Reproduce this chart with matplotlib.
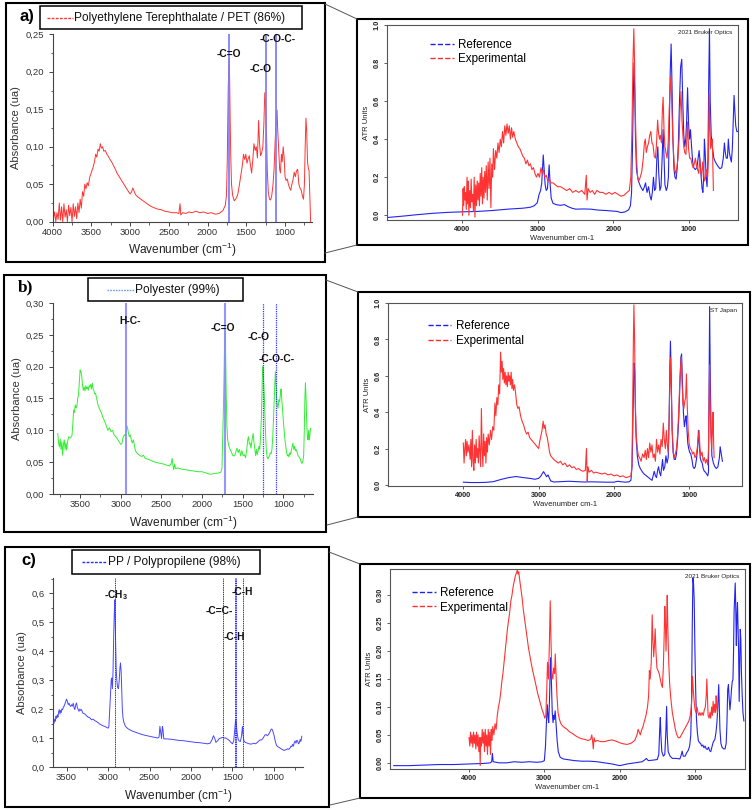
import numpy as np
import matplotlib
matplotlib.use("Agg")
import matplotlib.pyplot as plt
from matplotlib.patches import Rectangle
from matplotlib.lines import Line2D
from matplotlib.ticker import MultipleLocator

plt.rcParams['font.family'] = ['Liberation Sans', 'DejaVu Sans']
plt.rcParams['mathtext.default'] = 'regular'

# ---------------- data: (wavenumber, absorbance) -------------
# a) PET, left panel (red)
pet_abs = [(4000,0.015),(3990,0.004),(3975,0.013),(3960,0.0),(3945,0.012),(3930,0.003),(3915,0.025),(3900,0.002),
 (3885,0.02),(3870,0.0),(3855,0.024),(3840,0.006),(3825,0.016),(3810,0.0),(3795,0.022),(3780,0.008),(3765,0.019),
 (3750,0.0),(3735,0.024),(3720,0.007),(3705,0.02),(3690,0.004),(3675,0.025),(3660,0.012),(3645,0.03),(3630,0.018),
 (3615,0.04),(3600,0.034),(3585,0.05),(3570,0.044),(3555,0.052),(3540,0.048),(3520,0.06),(3500,0.066),(3480,0.072),
 (3460,0.08),(3445,0.09),(3430,0.086),(3415,0.097),(3400,0.094),(3385,0.104),(3370,0.098),(3355,0.1),(3340,0.094),
 (3320,0.095),(3300,0.09),(3280,0.087),(3260,0.083),(3240,0.08),(3220,0.076),(3200,0.072),(3170,0.065),(3140,0.06),
 (3110,0.055),(3080,0.05),(3050,0.045),(3020,0.04),(3000,0.037),(2980,0.04),(2965,0.045),(2950,0.041),(2930,0.036),
 (2900,0.033),(2860,0.03),(2820,0.027),(2780,0.024),(2740,0.021),(2700,0.019),(2650,0.017),(2600,0.016),(2550,0.014),
 (2500,0.013),(2450,0.012),(2400,0.012),(2370,0.011),(2355,0.024),(2345,0.009),(2320,0.012),(2280,0.011),(2240,0.013),
 (2200,0.012),(2150,0.014),(2100,0.012),(2050,0.013),(2000,0.011),(1950,0.012),(1900,0.01),(1850,0.011),(1800,0.015),
 (1770,0.022),(1755,0.035),(1745,0.08),(1738,0.13),(1732,0.18),(1726,0.2),(1720,0.218),(1714,0.19),(1708,0.14),
 (1700,0.09),(1690,0.05),(1675,0.035),(1655,0.028),(1635,0.03),(1610,0.036),(1590,0.048),(1570,0.062),(1550,0.075),
 (1535,0.09),(1520,0.083),(1505,0.09),(1490,0.078),(1475,0.084),(1460,0.088),(1445,0.075),(1430,0.065),(1415,0.082),
 (1400,0.104),(1385,0.095),(1370,0.1),(1355,0.085),(1340,0.135),(1328,0.105),(1315,0.088),(1300,0.092),(1285,0.1),
 (1272,0.13),(1260,0.172),(1248,0.155),(1238,0.12),(1228,0.07),(1215,0.04),(1200,0.03),(1185,0.029),(1170,0.035),
 (1155,0.048),(1140,0.07),(1125,0.11),(1112,0.14),(1102,0.149),(1092,0.12),(1080,0.095),(1068,0.07),(1058,0.065),
 (1045,0.09),(1035,0.08),(1022,0.1),(1010,0.085),(998,0.06),(985,0.055),(970,0.057),(955,0.05),(940,0.045),(925,0.042),
 (910,0.05),(895,0.056),(880,0.066),(865,0.06),(850,0.068),(835,0.07),(820,0.05),(805,0.045),(790,0.042),(775,0.035),
 (760,0.03),(748,0.05),(738,0.1),(728,0.138),(718,0.12),(708,0.08),(698,0.072),(688,0.068),(678,0.035),(668,0.0)]

# a) PET, right panel
ref_pet = [(5000,-0.012),(4800,-0.005),(4600,0.003),(4400,0.01),(4200,0.015),(4000,0.018),(3800,0.02),(3600,0.025),
 (3400,0.032),(3200,0.037),(3100,0.042),(3050,0.05),(3010,0.065),(2985,0.11),(2965,0.13),(2950,0.17),(2938,0.26),
 (2930,0.317),(2918,0.24),(2905,0.16),(2890,0.13),(2875,0.14),(2862,0.2),(2852,0.265),(2840,0.17),(2825,0.09),
 (2800,0.062),(2750,0.055),(2700,0.052),(2650,0.056),(2600,0.045),(2550,0.037),(2500,0.032),(2400,0.033),(2300,0.032),
 (2200,0.027),(2100,0.025),(2000,0.022),(1950,0.02),(1900,0.014),(1850,0.017),(1800,0.028),(1775,0.05),(1760,0.12),
 (1748,0.35),(1738,0.6),(1728,0.8),(1718,0.65),(1708,0.4),(1695,0.24),(1670,0.18),(1640,0.15),(1610,0.13),(1590,0.15),
 (1575,0.17),(1555,0.12),(1535,0.15),(1515,0.1),(1500,0.08),(1485,0.12),(1470,0.2),(1455,0.13),(1440,0.14),(1425,0.3),
 (1412,0.36),(1400,0.22),(1385,0.13),(1370,0.15),(1355,0.3),(1342,0.45),(1330,0.3),(1318,0.16),(1300,0.13),(1285,0.15),
 (1272,0.2),(1260,0.45),(1248,0.75),(1236,0.9),(1225,0.7),(1212,0.4),(1198,0.24),(1185,0.2),(1170,0.19),(1155,0.25),
 (1140,0.38),(1125,0.6),(1110,0.78),(1095,0.82),(1082,0.6),(1068,0.42),(1055,0.36),(1042,0.4),(1030,0.5),(1018,0.67),
 (1005,0.48),(992,0.4),(980,0.45),(965,0.36),(950,0.28),(935,0.25),(915,0.24),(895,0.25),(878,0.3),(865,0.34),
 (852,0.28),(838,0.2),(826,0.14),(815,0.12),(805,0.2),(795,0.4),(785,0.33),(772,0.2),(760,0.15),(748,0.3),(738,0.7),
 (728,0.98),(718,0.6),(705,0.42),(690,0.36),(670,0.3),(650,0.28),(620,0.26),(590,0.245),(565,0.25),(545,0.3),
 (530,0.38),(518,0.33),(505,0.3),(490,0.3),(478,0.4),(465,0.33),(450,0.3),(438,0.28),(425,0.35),(412,0.5),(402,0.63),
 (392,0.55),(380,0.47),(365,0.44),(350,0.44)]

exp_pet = [(4000,0.0),(3992,0.14),(3984,0.05),(3976,0.15),(3968,0.08),(3960,0.12),(3950,0.03),(3940,0.2),(3932,0.06),
 (3924,0.18),(3915,0.0),(3905,0.13),(3895,0.04),(3885,0.19),(3875,0.07),(3865,0.11),(3855,0.02),(3845,0.2),(3835,-0.01),
 (3825,0.16),(3815,0.05),(3805,0.18),(3795,0.08),(3785,0.17),(3775,0.05),(3765,0.22),(3755,0.1),(3745,0.25),(3735,0.06),
 (3725,0.2),(3715,0.09),(3705,0.23),(3695,0.12),(3685,0.26),(3672,0.08),(3660,0.28),(3648,0.14),(3636,0.3),(3624,0.04),
 (3612,0.27),(3600,0.2),(3590,0.35),(3575,0.24),(3560,0.34),(3545,0.3),(3530,0.38),(3515,0.33),(3500,0.4),(3485,0.36),
 (3470,0.44),(3455,0.38),(3440,0.47),(3425,0.42),(3410,0.48),(3395,0.43),(3380,0.47),(3365,0.4),(3350,0.46),(3335,0.41),
 (3320,0.44),(3300,0.4),(3280,0.38),(3260,0.36),(3240,0.35),(3220,0.33),(3200,0.31),(3180,0.3),(3160,0.27),(3140,0.29),
 (3120,0.26),(3100,0.27),(3080,0.24),(3060,0.25),(3040,0.22),(3020,0.2),(3000,0.22),(2980,0.2),(2960,0.25),(2945,0.22),
 (2930,0.24),(2910,0.2),(2890,0.21),(2870,0.18),(2850,0.19),(2830,0.17),(2800,0.17),(2770,0.16),(2740,0.15),(2700,0.15),
 (2660,0.14),(2620,0.13),(2580,0.14),(2540,0.12),(2500,0.13),(2460,0.12),(2420,0.13),(2380,0.11),(2360,0.21),(2350,0.08),
 (2335,0.14),(2310,0.12),(2280,0.13),(2250,0.11),(2220,0.13),(2180,0.12),(2140,0.12),(2100,0.11),(2060,0.12),(2020,0.11),
 (1980,0.12),(1940,0.11),(1900,0.1),(1860,0.105),(1820,0.12),(1790,0.13),(1770,0.2),(1755,0.45),(1742,0.8),(1730,0.98),
 (1720,0.8),(1708,0.5),(1695,0.3),(1680,0.2),(1665,0.18),(1645,0.2),(1625,0.23),(1605,0.3),(1590,0.38),(1578,0.4),
 (1565,0.33),(1550,0.36),(1535,0.38),(1520,0.42),(1505,0.44),(1490,0.38),(1475,0.37),(1460,0.31),(1445,0.3),(1430,0.37),
 (1415,0.5),(1402,0.43),(1390,0.4),(1378,0.42),(1365,0.38),(1352,0.55),(1342,0.62),(1330,0.45),(1318,0.36),(1305,0.33),
 (1290,0.3),(1275,0.38),(1262,0.55),(1250,0.66),(1240,0.73),(1228,0.6),(1215,0.42),(1200,0.3),(1188,0.24),(1175,0.22),
 (1160,0.25),(1145,0.3),(1130,0.4),(1118,0.55),(1105,0.65),(1092,0.5),(1080,0.42),(1068,0.36),(1055,0.33),(1040,0.32),
 (1028,0.4),(1018,0.49),(1005,0.35),(990,0.3),(975,0.3),(960,0.27),(945,0.25),(930,0.27),(915,0.3),(900,0.26),(885,0.24),
 (870,0.22),(858,0.3),(845,0.24),(832,0.2),(818,0.28),(805,0.22),(792,0.18),(778,0.2),(765,0.24),(752,0.2),(742,0.3),
 (732,0.64),(722,0.45),(712,0.35),(700,0.38),(690,0.4),(682,0.25),(676,0.13)]

# b) polyester, left panel (green)
poly_abs = [(3775,0.095),(3765,0.08),(3755,0.074),(3745,0.086),(3735,0.07),(3725,0.082),(3715,0.061),(3705,0.078),
 (3695,0.085),(3685,0.07),(3675,0.08),(3665,0.069),(3655,0.082),(3640,0.09),(3620,0.088),(3600,0.092),(3590,0.11),
 (3580,0.132),(3570,0.128),(3560,0.14),(3550,0.135),(3540,0.138),(3530,0.15),(3520,0.155),(3510,0.175),(3500,0.195),
 (3490,0.192),(3480,0.185),(3470,0.17),(3460,0.163),(3450,0.168),(3440,0.162),(3430,0.17),(3420,0.165),(3410,0.168),
 (3400,0.163),(3390,0.17),(3380,0.168),(3370,0.172),(3360,0.165),(3350,0.174),(3340,0.165),(3330,0.162),(3320,0.157),
 (3310,0.158),(3300,0.152),(3280,0.14),(3260,0.133),(3240,0.128),(3220,0.12),(3200,0.115),(3180,0.108),(3160,0.1),
 (3140,0.104),(3120,0.098),(3100,0.1),(3080,0.092),(3060,0.09),(3040,0.086),(3020,0.082),(3000,0.078),(2985,0.08),
 (2970,0.09),(2955,0.093),(2945,0.092),(2935,0.1),(2925,0.107),(2915,0.103),(2905,0.095),(2895,0.09),(2885,0.093),
 (2875,0.088),(2860,0.08),(2845,0.085),(2835,0.078),(2820,0.068),(2800,0.064),(2780,0.062),(2760,0.06),(2740,0.059),
 (2720,0.061),(2700,0.056),(2650,0.054),(2600,0.051),(2550,0.049),(2500,0.048),(2450,0.046),(2400,0.044),(2380,0.048),
 (2368,0.056),(2358,0.045),(2348,0.038),(2338,0.047),(2325,0.04),(2300,0.041),(2250,0.039),(2200,0.038),(2150,0.037),
 (2100,0.036),(2050,0.035),(2000,0.035),(1950,0.033),(1900,0.031),(1850,0.032),(1800,0.033),(1770,0.034),(1755,0.04),
 (1745,0.09),(1738,0.13),(1730,0.18),(1722,0.24),(1716,0.255),(1710,0.22),(1703,0.16),(1695,0.11),(1685,0.085),
 (1670,0.075),(1655,0.07),(1640,0.066),(1620,0.06),(1600,0.06),(1585,0.066),(1570,0.072),(1555,0.065),(1540,0.07),
 (1525,0.06),(1510,0.068),(1495,0.06),(1480,0.062),(1465,0.057),(1450,0.07),(1438,0.085),(1428,0.09),(1418,0.078),
 (1408,0.08),(1398,0.072),(1385,0.085),(1372,0.095),(1360,0.08),(1350,0.07),(1340,0.06),(1330,0.07),(1320,0.062),
 (1310,0.068),(1300,0.075),(1290,0.07),(1280,0.09),(1270,0.12),(1262,0.16),(1255,0.2),(1248,0.198),(1240,0.17),
 (1230,0.14),(1220,0.1),(1210,0.07),(1200,0.058),(1190,0.055),(1180,0.058),(1170,0.06),(1160,0.065),(1150,0.063),
 (1140,0.07),(1130,0.09),(1120,0.12),(1112,0.15),(1104,0.175),(1098,0.192),(1090,0.17),(1080,0.145),(1072,0.14),
 (1065,0.135),(1055,0.148),(1045,0.145),(1035,0.158),(1028,0.165),(1020,0.15),(1010,0.13),(1000,0.115),(990,0.1),
 (980,0.085),(970,0.075),(960,0.065),(950,0.06),(940,0.062),(930,0.058),(920,0.065),(910,0.062),(900,0.07),(890,0.075),
 (882,0.08),(872,0.07),(862,0.075),(852,0.068),(842,0.07),(830,0.065),(818,0.06),(805,0.058),(792,0.055),(780,0.05),
 (770,0.048),(760,0.052),(750,0.06),(742,0.1),(735,0.15),(728,0.175),(720,0.15),(712,0.11),(704,0.09),(696,0.085),
 (688,0.1),(680,0.085),(672,0.095),(665,0.103)]

# b) polyester, right panel
ref_poly = [(4000,0.015),(3900,0.013),(3800,0.013),(3700,0.014),(3600,0.018),(3500,0.03),(3400,0.04),(3300,0.046),
 (3200,0.04),(3100,0.035),(3050,0.031),(3000,0.036),(2975,0.046),(2955,0.06),(2935,0.073),(2915,0.06),(2895,0.045),
 (2875,0.055),(2860,0.04),(2840,0.022),(2800,0.016),(2700,0.018),(2600,0.02),(2500,0.018),(2400,0.016),(2300,0.017),
 (2200,0.016),(2100,0.015),(2000,0.015),(1950,0.02),(1900,0.017),(1850,0.015),(1800,0.017),(1775,0.025),(1760,0.1),
 (1750,0.3),(1740,0.55),(1732,0.67),(1724,0.62),(1715,0.4),(1705,0.25),(1690,0.16),(1670,0.11),(1650,0.09),(1620,0.07),
 (1600,0.06),(1570,0.05),(1540,0.04),(1510,0.03),(1495,0.025),(1480,0.05),(1465,0.075),(1450,0.05),(1435,0.04),
 (1420,0.08),(1408,0.1),(1395,0.07),(1380,0.05),(1365,0.1),(1355,0.14),(1342,0.08),(1325,0.1),(1310,0.16),(1295,0.12),
 (1280,0.15),(1268,0.35),(1258,0.65),(1250,0.79),(1240,0.6),(1228,0.3),(1215,0.18),(1200,0.14),(1185,0.14),(1170,0.17),
 (1155,0.25),(1140,0.36),(1125,0.55),(1112,0.7),(1102,0.72),(1090,0.55),(1078,0.4),(1065,0.32),(1052,0.36),(1042,0.38),
 (1030,0.3),(1020,0.23),(1008,0.2),(995,0.18),(980,0.17),(965,0.14),(950,0.1),(935,0.09),(920,0.1),(905,0.14),(890,0.2),
 (878,0.3),(866,0.22),(855,0.15),(842,0.13),(828,0.12),(815,0.09),(800,0.075),(785,0.07),(770,0.06),(755,0.05),
 (745,0.07),(738,0.5),(730,0.98),(720,0.55),(710,0.3),(700,0.16),(680,0.12),(660,0.1),(640,0.09),(620,0.1),(600,0.15),
 (590,0.21),(575,0.17),(560,0.13)]

exp_poly = [(4000,0.23),(3990,0.12),(3980,0.2),(3970,0.25),(3960,0.16),(3950,0.24),(3940,0.18),(3925,0.22),(3910,0.14),
 (3900,0.25),(3890,0.1),(3880,0.3),(3870,0.13),(3860,0.08),(3850,0.22),(3840,0.12),(3830,0.25),(3820,0.15),(3810,0.2),
 (3800,0.12),(3790,0.27),(3780,0.18),(3770,0.1),(3760,0.42),(3750,0.2),(3740,0.1),(3730,0.28),(3720,0.16),(3710,0.24),
 (3700,0.12),(3690,0.26),(3680,0.18),(3670,0.28),(3655,0.22),(3640,0.3),(3625,0.25),(3610,0.32),(3595,0.3),(3580,0.45),
 (3568,0.38),(3555,0.48),(3542,0.44),(3530,0.55),(3518,0.5),(3505,0.73),(3495,0.62),(3485,0.68),(3475,0.58),(3465,0.64),
 (3455,0.56),(3445,0.62),(3435,0.55),(3425,0.6),(3415,0.54),(3405,0.62),(3395,0.57),(3385,0.6),(3375,0.55),(3365,0.62),
 (3355,0.53),(3345,0.58),(3335,0.52),(3320,0.55),(3305,0.5),(3290,0.44),(3275,0.42),(3260,0.43),(3240,0.38),(3220,0.35),
 (3200,0.33),(3180,0.3),(3160,0.28),(3140,0.29),(3120,0.26),(3100,0.25),(3080,0.24),(3060,0.23),(3040,0.22),(3020,0.21),
 (3000,0.2),(2985,0.24),(2970,0.27),(2955,0.3),(2940,0.35),(2928,0.31),(2915,0.33),(2900,0.28),(2885,0.26),(2870,0.22),
 (2855,0.18),(2840,0.16),(2820,0.15),(2800,0.14),(2770,0.13),(2740,0.12),(2710,0.13),(2680,0.11),(2650,0.12),(2620,0.1),
 (2590,0.11),(2560,0.095),(2530,0.1),(2500,0.085),(2470,0.09),(2440,0.08),(2410,0.075),(2380,0.08),(2365,0.2),(2355,0.02),
 (2345,0.1),(2330,0.07),(2300,0.08),(2270,0.065),(2240,0.07),(2200,0.065),(2160,0.06),(2120,0.065),(2080,0.055),
 (2040,0.06),(2000,0.05),(1960,0.055),(1920,0.045),(1880,0.05),(1840,0.04),(1800,0.045),(1775,0.05),(1762,0.1),
 (1752,0.4),(1742,0.8),(1735,0.99),(1726,0.8),(1716,0.45),(1705,0.28),(1690,0.2),(1675,0.16),(1660,0.15),(1640,0.13),
 (1620,0.17),(1600,0.15),(1585,0.19),(1570,0.14),(1555,0.2),(1540,0.15),(1525,0.23),(1510,0.18),(1495,0.22),(1480,0.15),
 (1465,0.17),(1450,0.13),(1435,0.25),(1420,0.18),(1405,0.22),(1390,0.17),(1375,0.25),(1360,0.21),(1345,0.34),(1332,0.25),
 (1318,0.2),(1305,0.3),(1292,0.22),(1280,0.18),(1268,0.35),(1256,0.6),(1248,0.7),(1238,0.5),(1226,0.3),(1212,0.18),
 (1198,0.15),(1185,0.17),(1170,0.2),(1155,0.28),(1140,0.4),(1128,0.55),(1115,0.65),(1105,0.7),(1095,0.55),(1085,0.45),
 (1072,0.42),(1060,0.46),(1048,0.48),(1038,0.61),(1028,0.45),(1015,0.3),(1000,0.22),(985,0.2),(970,0.19),(955,0.17),
 (940,0.18),(925,0.15),(910,0.16),(895,0.2),(882,0.25),(870,0.3),(858,0.2),(845,0.16),(830,0.18),(815,0.13),(800,0.15),
 (785,0.12),(770,0.14),(755,0.11),(745,0.2),(737,0.45),(730,0.66),(722,0.4),(712,0.26),(702,0.2),(692,0.3),(684,0.4),
 (676,0.22),(670,0.15)]

# c) polypropylene, left panel (blue)
pp_abs = [(3660,0.163),(3652,0.15),(3644,0.165),(3636,0.158),(3628,0.175),(3620,0.168),(3612,0.18),(3604,0.172),
 (3596,0.19),(3588,0.198),(3580,0.183),(3572,0.195),(3564,0.188),(3556,0.2),(3548,0.198),(3540,0.205),(3530,0.21),
 (3520,0.218),(3510,0.225),(3500,0.234),(3490,0.226),(3480,0.215),(3470,0.22),(3460,0.212),(3450,0.209),(3440,0.215),
 (3430,0.21),(3420,0.22),(3410,0.205),(3400,0.198),(3390,0.215),(3380,0.221),(3370,0.205),(3360,0.198),(3350,0.192),
 (3340,0.2),(3330,0.195),(3320,0.198),(3310,0.19),(3300,0.185),(3280,0.183),(3260,0.177),(3240,0.172),(3220,0.17),
 (3200,0.163),(3180,0.165),(3160,0.16),(3140,0.157),(3120,0.153),(3100,0.148),(3080,0.145),(3060,0.142),(3040,0.14),
 (3020,0.137),(3000,0.134),(2990,0.14),(2980,0.2),(2970,0.255),(2962,0.3),(2955,0.307),(2948,0.27),(2940,0.33),
 (2932,0.45),(2924,0.54),(2917,0.577),(2910,0.45),(2902,0.34),(2895,0.3),(2885,0.275),(2875,0.27),(2865,0.3),
 (2856,0.345),(2850,0.359),(2842,0.33),(2835,0.26),(2828,0.2),(2820,0.17),(2810,0.155),(2790,0.14),(2760,0.132),
 (2730,0.127),(2700,0.123),(2650,0.118),(2600,0.113),(2550,0.109),(2500,0.106),(2450,0.103),(2400,0.1),(2385,0.103),
 (2375,0.14),(2365,0.12),(2355,0.098),(2345,0.14),(2338,0.13),(2328,0.097),(2300,0.097),(2250,0.096),(2200,0.094),
 (2150,0.092),(2100,0.091),(2050,0.089),(2000,0.087),(1950,0.085),(1900,0.084),(1850,0.082),(1800,0.08),(1770,0.082),
 (1745,0.095),(1730,0.108),(1715,0.1),(1700,0.085),(1680,0.09),(1660,0.098),(1640,0.1),(1620,0.102),(1600,0.1),
 (1580,0.1),(1560,0.096),(1540,0.092),(1520,0.085),(1500,0.08),(1485,0.09),(1472,0.13),(1462,0.163),(1455,0.15),
 (1445,0.12),(1432,0.095),(1420,0.09),(1405,0.088),(1392,0.105),(1380,0.14),(1372,0.11),(1362,0.09),(1345,0.085),
 (1320,0.082),(1300,0.08),(1280,0.079),(1260,0.08),(1240,0.082),(1220,0.08),(1200,0.085),(1180,0.09),(1165,0.094),
 (1150,0.093),(1130,0.1),(1110,0.11),(1095,0.112),(1080,0.108),(1065,0.112),(1050,0.12),(1035,0.13),(1025,0.131),
 (1015,0.125),(1000,0.11),(985,0.09),(970,0.075),(955,0.07),(940,0.068),(925,0.065),(910,0.062),(895,0.06),(880,0.057),
 (865,0.059),(850,0.06),(835,0.063),(820,0.061),(805,0.066),(795,0.072),(785,0.07),(775,0.078),(765,0.072),(755,0.085),
 (745,0.09),(735,0.082),(725,0.092),(715,0.09),(705,0.08),(695,0.083),(685,0.095),(675,0.088),(665,0.106)]

# c) polypropylene, right panel
ref_pp = [(5000,-0.005),(4800,-0.005),(4600,-0.004),(4400,-0.003),(4200,-0.003),(4000,-0.002),(3800,-0.001),(3720,0.0),
 (3700,0.002),(3690,0.017),(3680,0.002),(3600,0.0),(3500,0.0),(3400,0.002),(3300,0.001),(3200,0.002),(3100,0.001),
 (3030,0.002),(3000,0.004),(2985,0.03),(2970,0.08),(2960,0.104),(2950,0.08),(2942,0.072),(2930,0.12),(2922,0.17),
 (2915,0.188),(2905,0.14),(2895,0.09),(2885,0.072),(2875,0.085),(2868,0.078),(2856,0.093),(2845,0.07),(2830,0.04),
 (2815,0.02),(2790,0.01),(2750,0.007),(2700,0.006),(2600,0.004),(2500,0.003),(2400,0.003),(2300,0.002),(2200,0.0),
 (2100,-0.002),(2000,-0.005),(1900,-0.002),(1800,0.0),(1700,0.002),(1660,0.006),(1645,0.008),(1620,0.004),(1550,0.005),
 (1500,0.006),(1480,0.015),(1468,0.06),(1460,0.081),(1452,0.05),(1440,0.02),(1420,0.012),(1400,0.015),(1385,0.06),
 (1376,0.101),(1368,0.05),(1355,0.02),(1330,0.012),(1300,0.008),(1250,0.008),(1200,0.007),(1180,0.015),(1170,0.021),
 (1155,0.012),(1130,0.012),(1110,0.018),(1090,0.022),(1070,0.03),(1055,0.05),(1045,0.11),(1035,0.25),(1027,0.331),
 (1018,0.32),(1010,0.293),(1000,0.2),(990,0.13),(980,0.08),(968,0.055),(955,0.04),(940,0.036),(925,0.035),(910,0.03),
 (895,0.032),(880,0.027),(865,0.03),(850,0.025),(835,0.024),(820,0.028),(805,0.022),(790,0.02),(775,0.028),(760,0.036),
 (745,0.04),(735,0.042),(720,0.055),(708,0.072),(700,0.09),(692,0.113),(684,0.14),(676,0.1),(668,0.06),(655,0.035),
 (640,0.028),(620,0.025),(600,0.025),(585,0.035),(575,0.07),(565,0.131),(555,0.14),(545,0.115),(535,0.095),(525,0.11),
 (515,0.131),(505,0.145),(495,0.149),(487,0.2),(480,0.27),(472,0.3),(465,0.322),(458,0.28),(450,0.21),(443,0.26),
 (435,0.287),(428,0.25),(420,0.2),(412,0.11),(405,0.18),(398,0.239),(390,0.22),(382,0.16),(372,0.12),(362,0.09),
 (350,0.075)]

exp_pp = [(4000,0.045),(3990,0.03),(3980,0.055),(3970,0.035),(3960,0.05),(3950,0.028),(3940,0.055),(3930,0.035),
 (3920,0.05),(3910,0.025),(3900,0.055),(3890,0.03),(3880,0.05),(3870,0.02),(3860,0.045),(3852,-0.005),(3845,0.045),
 (3835,0.03),(3825,0.06),(3815,0.035),(3805,0.055),(3795,0.02),(3785,0.06),(3775,0.03),(3765,0.05),(3755,0.015),
 (3745,0.06),(3735,0.03),(3725,0.055),(3715,0.015),(3705,0.06),(3695,0.04),(3685,0.065),(3670,0.05),(3655,0.07),
 (3640,0.06),(3625,0.085),(3610,0.1),(3595,0.11),(3580,0.125),(3565,0.145),(3550,0.16),(3535,0.18),(3520,0.2),
 (3505,0.22),(3490,0.24),(3475,0.255),(3460,0.27),(3445,0.29),(3430,0.3),(3415,0.315),(3400,0.325),(3385,0.335),
 (3370,0.34),(3360,0.345),(3350,0.338),(3340,0.342),(3325,0.325),(3310,0.31),(3295,0.295),(3280,0.275),(3265,0.26),
 (3250,0.245),(3230,0.225),(3210,0.205),(3190,0.19),(3170,0.175),(3150,0.162),(3130,0.15),(3110,0.138),(3090,0.125),
 (3070,0.115),(3050,0.105),(3030,0.095),(3010,0.088),(2995,0.08),(2980,0.085),(2968,0.13),(2958,0.18),(2945,0.15),
 (2932,0.22),(2922,0.29),(2912,0.22),(2900,0.16),(2888,0.15),(2876,0.17),(2864,0.16),(2855,0.195),(2845,0.16),
 (2832,0.12),(2818,0.09),(2800,0.078),(2780,0.07),(2750,0.065),(2720,0.062),(2700,0.06),(2660,0.055),(2620,0.052),
 (2580,0.048),(2540,0.045),(2500,0.043),(2460,0.042),(2420,0.04),(2385,0.042),(2370,0.05),(2360,0.04),(2350,0.025),
 (2340,0.045),(2325,0.038),(2300,0.04),(2250,0.038),(2200,0.038),(2150,0.04),(2100,0.041),(2050,0.039),(2000,0.036),
 (1950,0.034),(1900,0.033),(1850,0.035),(1800,0.04),(1770,0.05),(1755,0.06),(1740,0.055),(1725,0.05),(1710,0.058),
 (1690,0.065),(1670,0.075),(1650,0.085),(1630,0.1),(1615,0.12),(1605,0.165),(1595,0.15),(1580,0.18),(1568,0.265),
 (1558,0.22),(1548,0.19),(1538,0.21),(1528,0.24),(1518,0.2),(1505,0.17),(1490,0.165),(1475,0.16),(1460,0.15),
 (1445,0.14),(1432,0.135),(1420,0.17),(1410,0.22),(1400,0.28),(1392,0.25),(1384,0.2),(1375,0.25),(1368,0.3),
 (1360,0.24),(1348,0.18),(1335,0.14),(1320,0.115),(1300,0.09),(1280,0.075),(1260,0.06),(1240,0.05),(1220,0.045),
 (1200,0.045),(1180,0.05),(1160,0.055),(1140,0.06),(1120,0.065),(1100,0.07),(1080,0.075),(1062,0.085),(1048,0.1),
 (1040,0.12),(1032,0.155),(1022,0.13),(1010,0.11),(998,0.095),(985,0.09),(972,0.1),(960,0.09),(948,0.085),(935,0.09),
 (920,0.085),(905,0.09),(890,0.085),(875,0.095),(862,0.1),(850,0.12),(842,0.15),(834,0.12),(825,0.085),(812,0.08),
 (800,0.09),(790,0.08),(778,0.1),(768,0.085),(758,0.11),(748,0.09),(738,0.105),(728,0.09),(718,0.12),(710,0.1),
 (702,0.09)]

# tick labels (decimal comma on the left panels)
xt_a = [4000, 3500, 3000, 2500, 2000, 1500, 1000]
yt_a = [0.0, 0.05, 0.10, 0.15, 0.20, 0.25]
yl_a = ['0,00', '0,05', '0,10', '0,15', '0,20', '0,25']
xt_b = [3500, 3000, 2500, 2000, 1500, 1000]
yt_b = [0.0, 0.05, 0.10, 0.15, 0.20, 0.25, 0.30]
yl_b = ['0,00', '0,05', '0,10', '0,15', '0,20', '0,25', '0,30']
xt_c = [3500, 3000, 2500, 2000, 1500, 1000]
yt_c = [0.0, 0.1, 0.2, 0.3, 0.4, 0.5, 0.6]
yl_c = ['0,0', '0,1', '0,2', '0,3', '0,4', '0,5', '0,6']
xt_r = [4000, 3000, 2000, 1000]
yt_r1 = [0.0, 0.2, 0.4, 0.6, 0.8, 1.0]
yt_r3 = [0.0, 0.05, 0.10, 0.15, 0.20, 0.25, 0.30]
yl_r3 = ['0.00', '0.05', '0.10', '0.15', '0.20', '0.25', '0.30']

# band assignments
bands_a = [1725, 1250, 1115]
labels_a = [("-C=O", 1730, 0.224), ("-C-O", 1310, 0.204), ("-C-O-C-", 1090, 0.244)]
bands_b_main = [2940, 1715]
bands_b_dot = [1255, 1095]
labels_b = [("H-C-", 2890, 0.271), ("-C=O", 1740, 0.26), ("-C-O", 1300, 0.246), ("-C-O-C-", 1083, 0.212)]
bands_c = [2917, 1615, 1472, 1458, 1375]
labels_c = [("-CH$_3$", 2900, 0.594), ("-C=C-", 1655, 0.537), ("-C-H", 1380, 0.602), ("-C-H", 1472, 0.447)]

#------------------------------------------------------------
W, H = 755, 810
fig = plt.figure(figsize=(W/100, H/100), dpi=100)


def px_axes(l, t, r, b):
    return fig.add_axes([l/W, 1 - b/H, (r - l)/W, (b - t)/H])


def frame(l, t, r, b, lw=1.5):
    fig.add_artist(Rectangle((l/W, 1 - b/H), (r - l)/W, (b - t)/H, transform=fig.transFigure,
                             fill=False, lw=lw, ec='black'))


def seg(x0, y0, x1, y1):
    fig.add_artist(Line2D([x0/W, x1/W], [1 - y0/H, 1 - y1/H], transform=fig.transFigure,
                          color='#555555', lw=0.7))


def legend_box(l, t, r, b, x_line, label, color, ls):
    frame(l, t, r, b, lw=1.1)
    yc = (t + b) / 2
    fig.add_artist(Line2D([x_line[0]/W, x_line[1]/W], [1 - yc/H, 1 - yc/H], transform=fig.transFigure,
                          color=color, lw=1.0, ls=ls))
    fig.text((x_line[1] + 1)/W, 1 - yc/H, label, fontsize=8.6, va='center', ha='left', color='#111111')


def left_style(ax, xlim, ylim, xt, yt, yl, xminor, yminor):
    ax.set_xlim(*xlim)
    ax.set_ylim(*ylim)
    for s in ['top', 'right']:
        ax.spines[s].set_visible(False)
    for s in ['left', 'bottom']:
        ax.spines[s].set_color('#444444')
        ax.spines[s].set_linewidth(0.8)
    ax.set_xticks(xt)
    ax.set_yticks(yt)
    ax.set_yticklabels(yl)
    ax.xaxis.set_minor_locator(MultipleLocator(xminor))
    ax.yaxis.set_minor_locator(MultipleLocator(yminor))
    ax.tick_params(which='both', direction='out', colors='#444444', labelsize=6.8, labelcolor='#333333')
    ax.tick_params(which='major', length=3, width=0.7)
    ax.tick_params(which='minor', length=1.8, width=0.6)
    ax.tick_params(axis='x', pad=1.5)
    ax.set_xlabel('Wavenumber (cm$^{-1}$)', fontsize=8.6, color='#222222', labelpad=3)
    ax.set_ylabel('Absorbance (ua)', fontsize=8, color='#333333', labelpad=3)


def right_style(ax, xlim, ylim, yt, yl=None, tag=''):
    ax.set_xlim(*xlim)
    ax.set_ylim(*ylim)
    for s in ax.spines.values():
        s.set_color('#555555')
        s.set_linewidth(0.8)
    ax.set_xticks(xt_r)
    ax.set_yticks(yt)
    if yl is not None:
        ax.set_yticklabels(yl)
    ax.tick_params(direction='out', length=2.5, width=0.6, labelsize=5.3, colors='#444444',
                   labelcolor='#222222', pad=2)
    for t in ax.get_yticklabels() + ax.get_xticklabels():
        t.set_fontweight('bold')
    for t in ax.get_yticklabels():
        t.set_rotation(90)
        t.set_va('center')
    ax.set_xlabel('Wavenumber cm-1', fontsize=5.5, color='#222222', labelpad=1.5)
    ax.set_ylabel('ATR Units', fontsize=5.5, color='#222222', labelpad=3)
    ax.text(0.985, 0.975, tag, transform=ax.transAxes, ha='right', va='top', fontsize=4.6, color='#222222')


def right_legend(ax, anchor):
    hs = [Line2D([], [], color='#2020ee', ls='--', lw=1.0), Line2D([], [], color='#ff2a2a', ls='--', lw=1.0)]
    ax.legend(hs, ['Reference', 'Experimental'], loc='upper left', bbox_to_anchor=anchor, frameon=False,
              fontsize=8.4, handlelength=2.0, handletextpad=0.4, labelspacing=0.2, borderpad=0.2)


RED = '#ff3333'
REF = '#2424ee'

# ---------------- panel a ----------------
frame(6, 3, 325, 262)
frame(357, 19, 748, 245)
seg(325, 4, 357, 19)
seg(325, 253, 357, 245)
fig.text(20/W, 1 - 16/H, 'a)', fontsize=12, fontweight='bold', va='center', ha='left')
legend_box(40, 6, 302, 29, (47, 73), 'Polyethylene Terephthalate / PET (86%)', RED, (0, (2, 1)))

ax = px_axes(52.7, 34.3, 312, 221.7)
d = np.array(pet_abs)
ax.plot(d[:, 0], d[:, 1], color=RED, lw=0.7)
for x in bands_a:
    ax.axvline(x, color='#7d7dff', lw=1.4, alpha=0.9)
for txt, x, y in labels_a:
    ax.text(x, y, txt, ha='center', va='center', fontsize=7.4, fontweight='bold', color='#111111')
left_style(ax, (4000, 650), (0, 0.25), xt_a, yt_a, yl_a, 250, 0.025)

ax = px_axes(387, 25, 738, 220)
d = np.array(ref_pet)
ax.plot(d[:, 0], d[:, 1], color=REF, lw=0.8)
d = np.array(exp_pet)
ax.plot(d[:, 0], d[:, 1], color=RED, lw=0.8)
right_style(ax, (5000, 350), (-0.025, 1.0), yt_r1, tag='2021 Bruker Optics')
right_legend(ax, (0.10, 0.97))

# ---------------- panel b ----------------
frame(4, 275, 326, 532)
frame(358, 292, 750, 517)
seg(326, 280, 358, 292)
seg(327, 525, 358, 517)
fig.text(18/W, 1 - 287/H, 'b)', fontsize=12.5, fontweight='bold', va='center', ha='left',
         family='Liberation Serif')
legend_box(88, 278, 243, 301, (107, 134), 'Polyester (99%)', '#6d9ff0', (0, (1.2, 0.8)))

ax = px_axes(53.3, 303, 313, 494)
d = np.array(poly_abs)
ax.plot(d[:, 0], d[:, 1], color='#33ee33', lw=0.7)
for x in bands_b_main:
    ax.axvline(x, color='#8a8aff', lw=1.5, alpha=0.9)
for x in bands_b_dot:
    ax.axvline(x, color='#3535ff', lw=0.9, ls=(0, (1, 0.8)))
for txt, x, y in labels_b:
    ax.text(x, y, txt, ha='center', va='center', fontsize=7.4, fontweight='bold', color='#111111')
left_style(ax, (3830, 635), (0, 0.30), xt_b, yt_b, yl_b, 250, 0.025)

ax = px_axes(388, 303, 742, 486)
d = np.array(ref_poly)
ax.plot(d[:, 0], d[:, 1], color=REF, lw=0.8)
d = np.array(exp_poly)
ax.plot(d[:, 0], d[:, 1], color=RED, lw=0.8)
right_style(ax, (5000, 300), (-0.006, 1.0), yt_r1, tag='ST Japan')
right_legend(ax, (0.09, 0.95))

# ---------------- panel c ----------------
frame(5, 547, 329, 807)
frame(360, 564, 750, 798)
seg(329, 552, 360, 564)
seg(330, 805, 360, 798)
fig.text(21/W, 1 - 561/H, 'c)', fontsize=12, fontweight='bold', va='center', ha='left')
legend_box(72, 550, 260, 574, (82, 107), 'PP / Polypropilene (98%)', '#2a2aff', (0, (2, 1)))

ax = px_axes(53.3, 578, 303, 767)
d = np.array(pp_abs)
ax.plot(d[:, 0], d[:, 1], color='#4848ff', lw=0.7)
for x in bands_c:
    ax.axvline(x, color='#2a2aff', lw=0.7, ls=(0, (1.5, 0.8)))
for txt, x, y in labels_c:
    ax.text(x, y, txt, ha='center', va='center', fontsize=7.4, fontweight='bold', color='#111111')
left_style(ax, (3660, 650), (0, 0.652), xt_c, yt_c, yl_c, 250, 0.05)

ax = px_axes(390, 569, 745, 769)
d = np.array(ref_pp)
ax.plot(d[:, 0], d[:, 1], color=REF, lw=0.8)
d = np.array(exp_pp)
ax.plot(d[:, 0], d[:, 1], color=RED, lw=0.8)
right_style(ax, (5050, 335), (-0.011, 0.347), yt_r3, yl_r3, tag='2021 Bruker Optics')
right_legend(ax, (0.04, 0.95))

fig.savefig('out.png', dpi=100)
plt.close(fig)
